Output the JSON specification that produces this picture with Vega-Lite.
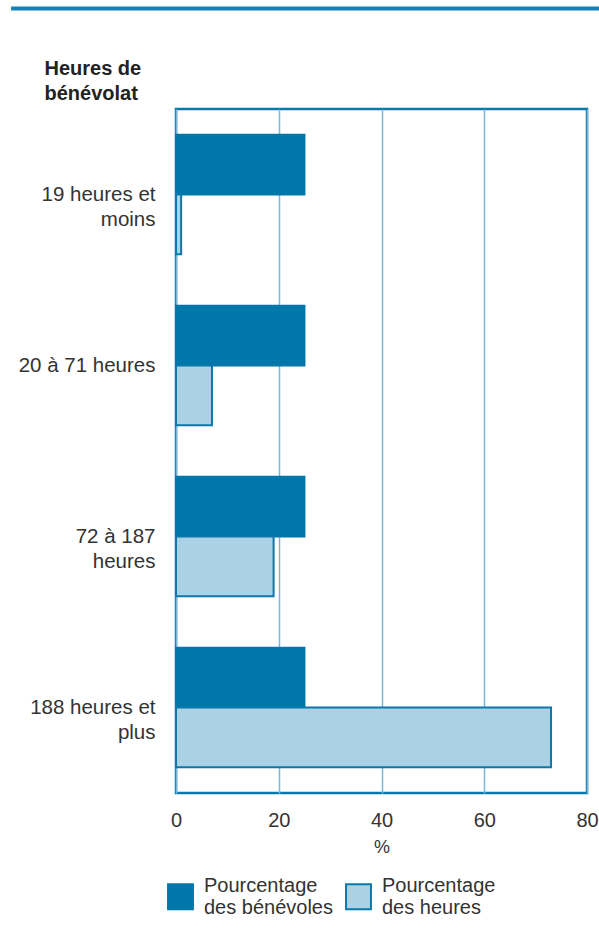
{
  "$schema": "https://vega.github.io/schema/vega-lite/v6.json",
  "padding": {"left": 9, "top": 6, "right": 0, "bottom": 0},
  "background": "white",
  "config": {
    "font": "Liberation Sans",
    "view": {"stroke": null}
  },
  "spacing": 45,
  "vconcat": [
    {
      "width": 411,
      "height": 1,
      "data": {"values": [{}]},
      "mark": {"type": "rule", "stroke": "#1580b5", "strokeWidth": 4, "clip": false},
      "encoding": {
        "x": {"datum": -32.1, "type": "quantitative", "scale": {"domain": [0, 80], "nice": false, "zero": false}, "axis": null},
        "x2": {"datum": 83}
      }
    },
    {
      "width": 411,
      "height": 684,
      "view": {"stroke": "#0a78aa", "strokeWidth": 2.5},
      "data": {
        "values": [
          {"groupe": "19 heures et moins", "serie": "Pourcentage des bénévoles", "valeur": 25},
          {"groupe": "19 heures et moins", "serie": "Pourcentage des heures", "valeur": 1},
          {"groupe": "20 à 71 heures", "serie": "Pourcentage des bénévoles", "valeur": 25},
          {"groupe": "20 à 71 heures", "serie": "Pourcentage des heures", "valeur": 7},
          {"groupe": "72 à 187 heures", "serie": "Pourcentage des bénévoles", "valeur": 25},
          {"groupe": "72 à 187 heures", "serie": "Pourcentage des heures", "valeur": 19},
          {"groupe": "188 heures et plus", "serie": "Pourcentage des bénévoles", "valeur": 25},
          {"groupe": "188 heures et plus", "serie": "Pourcentage des heures", "valeur": 73}
        ]
      },
      "mark": {"type": "bar", "strokeWidth": 2},
      "encoding": {
        "y": {
          "field": "groupe",
          "type": "nominal",
          "sort": ["19 heures et moins", "20 à 71 heures", "72 à 187 heures", "188 heures et plus"],
          "scale": {"paddingInner": 0.3, "paddingOuter": 0.15},
          "axis": {
            "domain": false,
            "ticks": false,
            "labelFontSize": 20.5,
            "labelPadding": 21,
            "labelColor": "#333333",
            "labelLimit": 250,
            "labelLineHeight": 25,
            "labelExpr": "length(datum.label) > 14 ? [slice(datum.label, 0, lastindexof(datum.label, ' ')), slice(datum.label, lastindexof(datum.label, ' ') + 1)] : datum.label",
            "title": ["Heures de", "bénévolat"],
            "titleAngle": 0,
            "titleAlign": "left",
            "titleBaseline": "alphabetic",
            "titleX": -132,
            "titleY": -35,
            "titleFontSize": 20,
            "titleFontWeight": "bold",
            "titleColor": "#222222",
            "titleLineHeight": 25
          }
        },
        "yOffset": {
          "field": "serie",
          "type": "nominal",
          "scale": {"paddingInner": 0, "paddingOuter": 0}
        },
        "x": {
          "field": "valeur",
          "type": "quantitative",
          "scale": {"domain": [0, 80], "nice": false},
          "axis": {
            "values": [0, 20, 40, 60, 80],
            "grid": true,
            "gridColor": "#7bb8d8",
            "gridWidth": 1.5,
            "domain": false,
            "ticks": false,
            "labelFontSize": 20,
            "labelPadding": 17,
            "labelColor": "#333333",
            "labelFlush": false,
            "title": "%",
            "titleFontSize": 18,
            "titleFontWeight": "normal",
            "titleColor": "#333333",
            "titlePadding": 8
          }
        },
        "color": {
          "field": "serie",
          "type": "nominal",
          "scale": {"range": ["#0077aa", "#abd2e4"]},
          "legend": {
            "orient": "none",
            "legendX": -9,
            "legendY": 875,
            "direction": "horizontal",
            "title": null,
            "symbolType": "square",
            "symbolSize": 620,
            "symbolStrokeWidth": 2,
            "labelFontSize": 20,
            "labelColor": "#333333",
            "labelLimit": 300,
            "labelOffset": 10,
            "labelBaseline": "line-bottom",
            "columnPadding": 9,
            "labelLineHeight": 26,
            "labelExpr": "[slice(datum.label, 0, 11), slice(datum.label, 12)]"
          }
        },
        "stroke": {
          "field": "serie",
          "type": "nominal",
          "scale": {"range": ["#0077aa", "#0b78aa"]},
          "legend": {
            "orient": "none",
            "legendX": -9,
            "legendY": 875,
            "direction": "horizontal",
            "title": null,
            "symbolType": "square",
            "symbolSize": 620,
            "symbolStrokeWidth": 2,
            "labelFontSize": 20,
            "labelColor": "#333333",
            "labelLimit": 300,
            "labelOffset": 10,
            "labelBaseline": "line-bottom",
            "columnPadding": 9,
            "labelLineHeight": 26,
            "labelExpr": "[slice(datum.label, 0, 11), slice(datum.label, 12)]"
          }
        }
      }
    }
  ]
}
